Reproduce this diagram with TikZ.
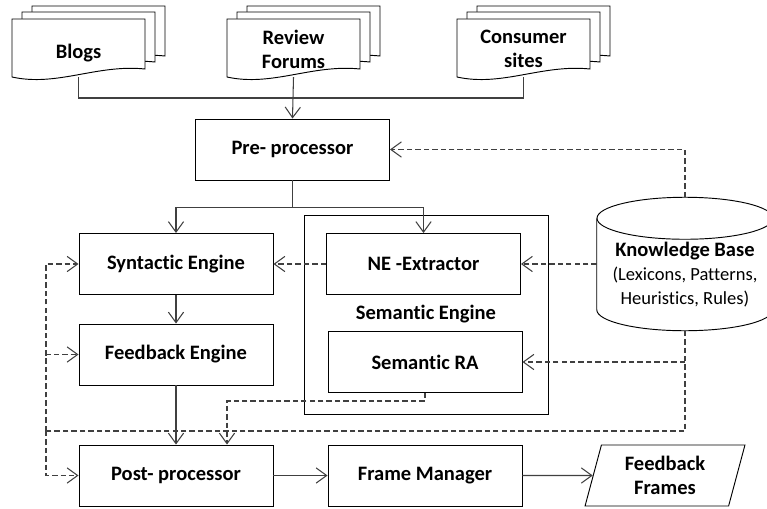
\documentclass[tikz,border=0pt]{standalone}
\usepackage{fontspec}
\setmainfont{Carlito}[Ligatures=CommonOff]
\usetikzlibrary{arrows.meta,shapes.geometric}

\newcommand{\docsheet}[2]{%
  \draw[fill=white,line width=0.8pt,shift={(#1,#2)}] (0,0) -- (133,0) -- (133,50) .. controls (85,45) and (45,68) .. (0,58) -- cycle ;}
\newcommand{\kbsmall}{\mdseries\fontsize{15.8}{19}\selectfont}

\begin{document}
\begin{tikzpicture}[x=0.03cm,y=-0.03cm,
        font=\bfseries\fontsize{17.5}{20.5}\selectfont,
        >={Straight Barb[length=9pt,width=13pt]},
        box/.style={draw,line width=0.8pt,minimum width=5.82cm,minimum height=1.83cm,inner sep=0pt,align=center},
        doc/.style={minimum width=3.99cm,minimum height=1.68cm,inner sep=0pt,align=center},
        wire/.style={draw=black!75,line width=0.9pt},
        dwire/.style={wire,dash pattern=on 4.6pt off 2.6pt}]
            \clip (0,0) rectangle (767,508) ;
            % sources
            \docsheet{32}{6} \docsheet{22}{12} \docsheet{12}{19}
            \docsheet{247}{6} \docsheet{237}{12} \docsheet{227}{19}
            \docsheet{477}{6} \docsheet{467}{12} \docsheet{457}{19}
            \node[doc,minimum height=1.44cm] (blogs) at (78.5,53) {Blogs} ;
            \node[doc] (forums) at (293.5,49) {Review\\Forums} ;
            \node[doc] (consumer) at (523.5,49) {Consumer\\sites} ;
            % engines
            \node[box] (pre) at (292.5,149.5) {Pre- processor} ;
            \node[box,minimum width=7.32cm,minimum height=5.97cm] (sem) at (426,314.5) {Semantic Engine} ;
            \node[box] (syn) at (176,264) {Syntactic Engine} ;
            \node[box] (fb) at (176,354.5) {Feedback Engine} ;
            \node[box] (ne) at (423.5,264) {NE -Extractor} ;
            \node[box] (sra) at (425,362) {Semantic RA} ;
            \node[box] (post) at (176,475.5) {Post- processor} ;
            \node[box] (fm) at (425,475.5) {Frame Manager} ;
            \node[box,trapezium,trapezium left angle=75,trapezium right angle=105,trapezium stretches,minimum width=4.8cm] (ff) at (665,475.5) {Feedback\\Frames} ;
            % knowledge base
            \node[minimum width=5.28cm,minimum height=3.99cm,inner sep=0pt] (kb) at (685,264) {} ;
            \draw[line width=0.8pt] ([yshift=-0.63cm]kb.north west) -- ([yshift=0.63cm]kb.south west) arc[start angle=180,end angle=360,x radius=2.64cm,y radius=0.63cm] -- ([yshift=-0.63cm]kb.north east) ;
            \draw[line width=0.8pt] ([yshift=-0.63cm]kb.north) ellipse[x radius=2.64cm,y radius=0.63cm] ;
            \node[align=center,inner sep=0pt] (kbtext) at (685,275) {Knowledge Base\\{\kbsmall (Lexicons, Patterns,}\\{\kbsmall Heuristics, Rules)}} ;
            % flow
            \coordinate (join) at (293.5,98) ;
            \draw[wire] (blogs.south) |- (join) -| (consumer.south) ;
            \draw[wire,->] (forums.south) -- (pre.north) ;
            \path (pre.south) ++(0,27) coordinate (split) ;
            \draw[wire] (pre.south) -- (split) ;
            \draw[wire,->] (split) -| (syn.north) ;
            \draw[wire,->] (split) -| (ne.north) ;
            \draw[wire,->] (syn) -- (fb) ;
            \draw[wire,->] (fb) -- (post) ;
            \draw[wire,->] (post) -- (fm) ;
            \draw[wire,->] (fm) -- (ff) ;
            % feedback from the knowledge base
            \coordinate (back) at (46,431) ;
            \draw[dwire,->] (kb.north) |- (pre.east) ;
            \draw[dwire,->] (kb.west) -- (ne.east) ;
            \draw[dwire,->] (ne) -- (syn) ;
            \draw[dwire] (kb.south) |- (back) ;
            \draw[dwire,->] (kb.south |- sra.east) -- (sra.east) ;
            \draw[dwire,->] (back) |- (syn.west) ;
            \draw[dwire,->] (back) |- (fb.west) ;
            \draw[dwire,->] (back) |- (post.west) ;
            \draw[dwire,->] (sra.south) -- ++(0,8) -| ([xshift=1.53cm]post.north) ;
        \end{tikzpicture}
\end{document}
